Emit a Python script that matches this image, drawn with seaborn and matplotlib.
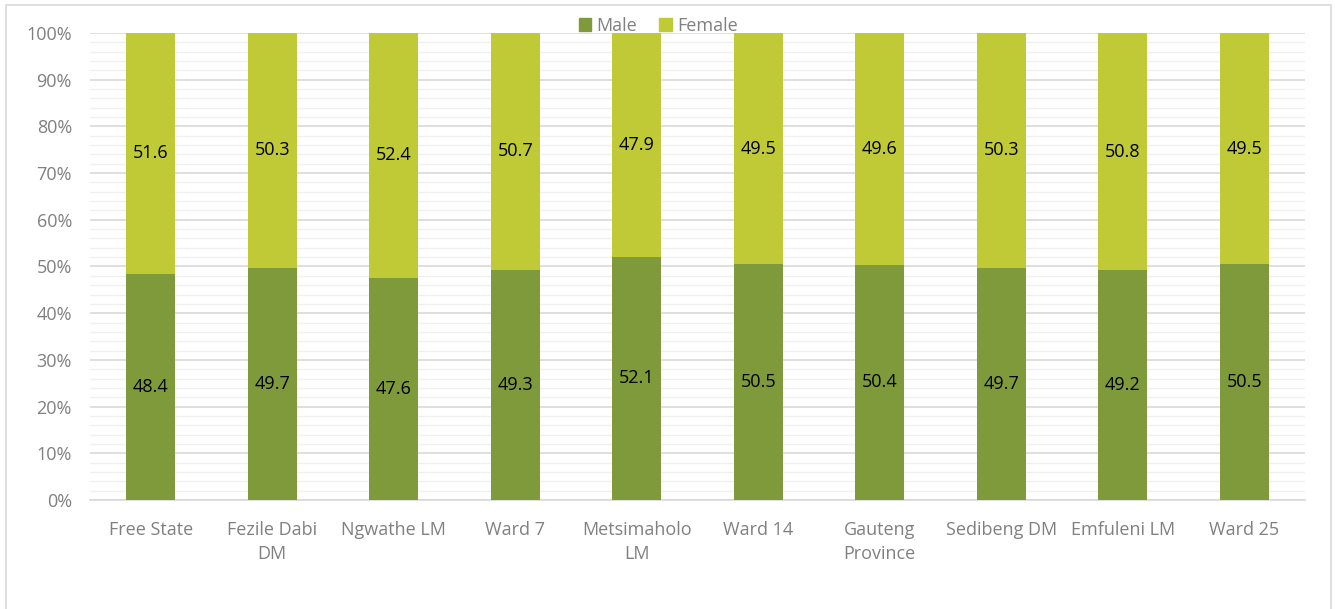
import pandas as pd
import seaborn as sns
import matplotlib.pyplot as plt
from matplotlib import ticker
from matplotlib.patches import Rectangle, Patch

# data
areas = ['Free State', 'Fezile Dabi\nDM', 'Ngwathe LM', 'Ward 7', 'Metsimaholo\nLM',
         'Ward 14', 'Gauteng\nProvince', 'Sedibeng DM', 'Emfuleni LM', 'Ward 25']
male = [48.4, 49.7, 47.6, 49.3, 52.1, 50.5, 50.4, 49.7, 49.2, 50.5]
female = [51.6, 50.3, 52.4, 50.7, 47.9, 49.5, 49.6, 50.3, 50.8, 49.5]

cor_male = '#7F9A3B'
cor_female = '#C0C936'
cor_texto = '#808080'

df = pd.DataFrame({'Area': areas, 'Male': male, 'Female': female})
df['Total'] = df['Male'] + df['Female']

sns.set_style('white')
plt.rcParams['font.family'] = ['Open Sans', 'DejaVu Sans']

fig = plt.figure(figsize=(13.35, 6.09), dpi=100)
ax = fig.add_axes([0.0674, 0.179, 0.9101, 0.7668])

# barras empilhadas: total (female por cima) e depois male
sns.barplot(data=df, x='Area', y='Total', color=cor_female, width=0.4, ax=ax,
            saturation=1, linewidth=0, zorder=3)
sns.barplot(data=df, x='Area', y='Male', color=cor_male, width=0.4, ax=ax,
            saturation=1, linewidth=0, zorder=3)

# rótulos de dados no centro de cada segmento
for i, (m, f) in enumerate(zip(male, female)):
    ax.text(i, m / 2, f'{m:.1f}', ha='center', va='center', fontsize=13, color='black', zorder=5)
    ax.text(i, m + f / 2, f'{f:.1f}', ha='center', va='center', fontsize=13, color='black', zorder=5)

ax.set_xlim(-0.5, 9.5)
ax.set_ylim(0, 100)
ax.yaxis.set_major_locator(ticker.MultipleLocator(10))
ax.yaxis.set_minor_locator(ticker.MultipleLocator(2))
ax.yaxis.set_major_formatter(ticker.FuncFormatter(lambda v, p: f'{v:.0f}%'))
ax.grid(axis='y', which='major', color='#D9D9D9', linewidth=1.2, zorder=0)
ax.grid(axis='y', which='minor', color='#F0F0F0', linewidth=1.0, zorder=0)
ax.set_axisbelow(True)

for s in ['top', 'right', 'left']:
    ax.spines[s].set_visible(False)
ax.spines['bottom'].set_color('#D9D9D9')
ax.spines['bottom'].set_linewidth(1.2)

ax.set_xlabel('')
ax.set_ylabel('')
ax.tick_params(axis='both', length=0, colors=cor_texto, labelsize=13)
ax.tick_params(axis='y', pad=13)
ax.tick_params(axis='x', pad=15)
for lbl in ax.get_xticklabels():
    lbl.set_linespacing(1.45)

# legenda no topo
handles = [Patch(color=cor_male, label='Male'), Patch(color=cor_female, label='Female')]
fig.legend(handles=handles, loc='center', bbox_to_anchor=(0.493, 0.958), ncol=2, frameon=False,
           fontsize=13, labelcolor=cor_texto, handlelength=0.7, handleheight=0.7,
           handletextpad=0.3, columnspacing=1.2, borderaxespad=0)

# borda da figura
fig.patches.append(Rectangle((6 / 1335, -0.01), 1325 / 1335, 1 - 5 / 609 + 0.01,
                             transform=fig.transFigure, fill=False,
                             edgecolor='#D9D9D9', linewidth=1.2))

fig.savefig('out.png', dpi=100)
